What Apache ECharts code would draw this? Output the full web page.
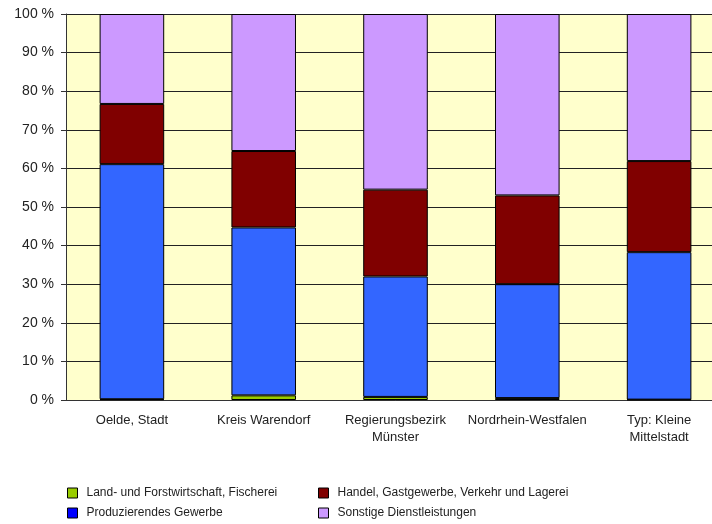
<!DOCTYPE html>
<html>
<head>
<meta charset="utf-8">
<script src="https://cdn.jsdelivr.net/npm/echarts@6/dist/echarts.min.js"></script>
<style>
  html, body { margin: 0; padding: 0; background: #fff; overflow: hidden; }
  /* the source picture is cut off at the right edge of the plot */
  #chart { width: 725px; height: 524px; }
</style>
</head>
<body>
<div id="chart"></div>
<script>
// categories
const regions = ['Oelde, Stadt', 'Kreis Warendorf', 'Regierungsbezirk\nMünster', 'Nordrhein-Westfalen', 'Typ: Kleine\nMittelstadt']

// shares in percent, bottom to top
const landwirtschaft = [0.2, 1.2, 0.8, 0.5, 0.1]
const produzierend = [60.9, 43.5, 31.2, 29.5, 38.2]
const handel = [15.6, 19.8, 22.5, 23.0, 23.6]
const sonstige = [23.3, 35.5, 45.5, 47.0, 38.1]

const yTicks = { min: 0, max: 100, interval: 10 }

const font = 'Liberation Sans, Arial, sans-serif'

function barSeries(name, data, color) {
  return {
    name,
    type: 'bar',
    stack: 'total',
    data,
    barWidth: '49%',
    itemStyle: { color, borderColor: '#000', borderWidth: 1 },
  }
}

function legendBox(left, items) {
  return {
    orient: 'vertical', left, top: 486, padding: 0, itemGap: 6,
    itemWidth: 10, itemHeight: 10, icon: 'rect',
    textStyle: { fontFamily: font, fontSize: 12, lineHeight: 14, color: '#222', padding: [0, 0, 0, 4] },
    itemStyle: { borderColor: '#000', borderWidth: 1 },
    data: items,
  }
}

const chart = echarts.init(document.getElementById('chart'))
chart.setOption({
  animation: false,
  textStyle: { fontFamily: font },
  grid: {
    left: 66, top: 14, right: 0, bottom: 124,
    show: true, backgroundColor: '#FFFFCC', borderWidth: 0,
  },
  legend: [
    legendBox(67, [
      { name: 'Land- und Forstwirtschaft, Fischerei' },
      { name: 'Produzierendes Gewerbe', itemStyle: { color: '#0000FF' } },
    ]),
    legendBox(318, [
      { name: 'Handel, Gastgewerbe, Verkehr und Lagerei' },
      { name: 'Sonstige Dienstleistungen' },
    ]),
  ],
  xAxis: {
    type: 'category',
    data: regions,
    axisTick: { show: false },
    axisLine: { show: true, lineStyle: { color: '#333', width: 1 } },
    axisLabel: { color: '#222', fontSize: 13, margin: 12, lineHeight: 17, interval: 0 },
  },
  yAxis: {
    type: 'value',
    min: yTicks.min, max: yTicks.max, interval: yTicks.interval,
    axisLine: { show: true, lineStyle: { color: '#333', width: 1 } },
    axisTick: { show: true, length: 5, lineStyle: { color: '#333' } },
    axisLabel: { color: '#222', fontSize: 14, margin: 12, formatter: '{value} %' },
    splitLine: { show: true, lineStyle: { color: '#222', width: 1 } },
  },
  series: [
    barSeries('Land- und Forstwirtschaft, Fischerei', landwirtschaft, '#99CC00'),
    barSeries('Produzierendes Gewerbe', produzierend, '#3366FF'),
    barSeries('Handel, Gastgewerbe, Verkehr und Lagerei', handel, '#800000'),
    barSeries('Sonstige Dienstleistungen', sonstige, '#CC99FF'),
  ],
})
</script>
</body>
</html>
